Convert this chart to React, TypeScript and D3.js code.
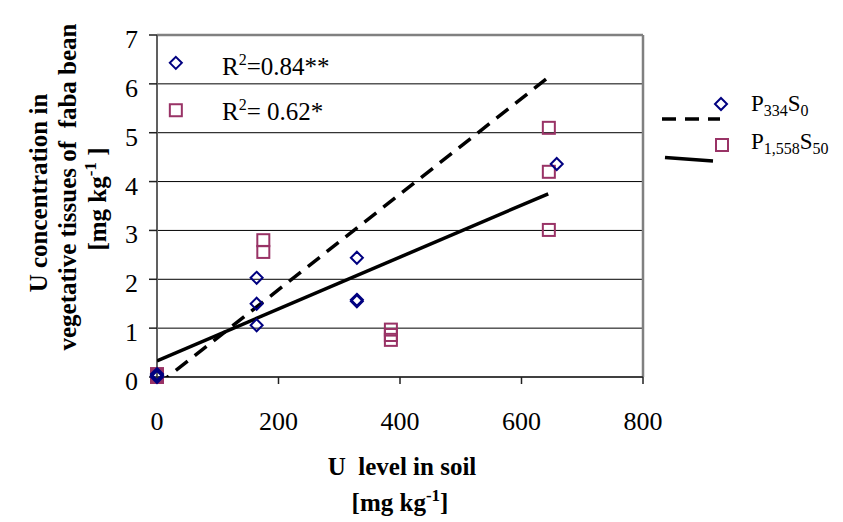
import React from "react";
import * as d3 from "d3";

const xTicks = [0, 200, 400, 600, 800];
const yTicks = [0, 1, 2, 3, 4, 5, 6, 7];
const gridValues = [1, 2, 3, 4, 5, 6];

// P334S0 (blue diamonds)
const seriesAx = [0, 0, 0, 164, 164, 164, 329, 329, 329, 658];
const seriesAy = [0.0, 0.03, 0.06, 2.03, 1.5, 1.06, 2.44, 1.58, 1.55, 4.36];
// P1,558S50 (pink squares)
const seriesBx = [0, 0, 0, 175, 175, 385, 385, 385, 645, 645, 645];
const seriesBy = [0.0, 0.03, 0.06, 2.8, 2.56, 0.97, 0.86, 0.76, 5.1, 4.2, 3.01];

// trend lines (endpoints)
const trendAx = [0, 647];
const trendAy = [-0.17, 6.16];
const trendBx = [0, 644];
const trendBy = [0.33, 3.75];

// in-plot annotations
const annotX = [31, 31];
const annotY = [6.43, 5.46];
const annotLabelX = [107, 107];
const annotLabelY = [6.18, 5.26];
const annotR2 = ["=0.84**", "= 0.62*"];

const BLUE = "#000080";
const PINK = "#993366";
const SERIF = "'Liberation Serif', 'Times New Roman', serif";

function Diamond({ cx, cy, r = 6 }: { cx: number; cy: number; r?: number }) {
  return (
    <path
      d={`M${cx},${cy - r}L${cx + r},${cy}L${cx},${cy + r}L${cx - r},${cy}Z`}
      fill="none"
      stroke={BLUE}
      strokeWidth={2}
    />
  );
}
function Square({ cx, cy, s = 12 }: { cx: number; cy: number; s?: number }) {
  return (
    <rect x={cx - s / 2} y={cy - s / 2} width={s} height={s} fill="none" stroke={PINK} strokeWidth={2} />
  );
}

export default function App() {
  const x = d3.scaleLinear().domain([0, 800]).range([157, 643]);
  const y = d3.scaleLinear().domain([0, 7]).range([377, 35]);
  const line = d3
    .line<[number, number]>()
    .x((d) => x(d[0]))
    .y((d) => y(d[1]));
  const tA: [number, number][] = trendAx.map((v, i) => [v, trendAy[i]]);
  const tB: [number, number][] = trendBx.map((v, i) => [v, trendBy[i]]);

  return (
    <svg
      width={843}
      height={522}
      style={{ position: "absolute", left: 0, top: 0, background: "#fff" }}
      fontFamily={SERIF}
    >
      <defs>
        <clipPath id="plotclip">
          <rect x={x(0)} y={y(7)} width={x(800) - x(0)} height={y(0) - y(7)} />
        </clipPath>
      </defs>
      <rect width={843} height={522} fill="#fff" />
      {/* gridlines */}
      {gridValues.map((g) => (
        <line key={g} x1={x(0)} x2={x(800)} y1={y(g)} y2={y(g)} stroke="#000" strokeWidth={1} />
      ))}
      {/* plot border top/right */}
      <line x1={x(0)} x2={x(800)} y1={y(7)} y2={y(7)} stroke="#808080" strokeWidth={2.5} />
      <line x1={x(800)} x2={x(800)} y1={y(7)} y2={y(0)} stroke="#808080" strokeWidth={2.5} />
      {/* axes */}
      <line x1={x(0)} x2={x(0)} y1={y(7)} y2={y(0)} stroke="#606060" strokeWidth={2} />
      <line x1={x(0)} x2={x(800)} y1={y(0)} y2={y(0)} stroke="#404040" strokeWidth={2} />
      {yTicks.map((t) => (
        <g key={t}>
          <line x1={x(0) - 8} x2={x(0)} y1={y(t)} y2={y(t)} stroke="#202020" strokeWidth={1.5} />
          <text x={138} y={y(t) + 13} textAnchor="end" fontSize={26} fill="#000">
            {t}
          </text>
        </g>
      ))}
      {xTicks.map((t) => (
        <g key={t}>
          <line x1={x(t)} x2={x(t)} y1={y(0)} y2={y(0) + 7} stroke="#202020" strokeWidth={1.5} />
          <text x={x(t)} y={430} textAnchor="middle" fontSize={26} fill="#000">
            {t}
          </text>
        </g>
      ))}
      {/* trend lines */}
      <g clipPath="url(#plotclip)">
        <path d={line(tA) || ""} fill="none" stroke="#000" strokeWidth={3.5} strokeDasharray="15,9" />
        <path d={line(tB) || ""} fill="none" stroke="#000" strokeWidth={3.5} />
      </g>
      {/* points */}
      {seriesBx.map((v, i) => (
        <Square key={"b" + i} cx={x(v)} cy={y(seriesBy[i])} />
      ))}
      {seriesAx.map((v, i) => (
        <Diamond key={"a" + i} cx={x(v)} cy={y(seriesAy[i])} />
      ))}
      {/* annotations */}
      <Diamond cx={x(annotX[0])} cy={y(annotY[0])} />
      <Square cx={x(annotX[1])} cy={y(annotY[1])} />
      {annotR2.map((s, i) => (
        <text key={s} x={x(annotLabelX[i])} y={y(annotLabelY[i])} fontSize={25} fill="#000">
          R<tspan fontSize={16} dy={-10}>2</tspan>
          <tspan dy={10}>{s}</tspan>
        </text>
      ))}
      {/* legend */}
      <line x1={662} x2={720} y1={119} y2={119} stroke="#000" strokeWidth={3.5} strokeDasharray="14,9" />
      <Diamond cx={721} cy={104} />
      <text x={751} y={111} fontSize={23} fill="#000">
        P<tspan fontSize={16} dy={5}>334</tspan>
        <tspan dy={-5}>S</tspan>
        <tspan fontSize={16} dy={5}>0</tspan>
      </text>
      <line x1={665} x2={713} y1={157.5} y2={161} stroke="#000" strokeWidth={3.5} />
      <Square cx={722} cy={145} />
      <text x={751} y={149} fontSize={23} fill="#000">
        P<tspan fontSize={16} dy={5}>1,558</tspan>
        <tspan dy={-5}>S</tspan>
        <tspan fontSize={16} dy={5}>50</tspan>
      </text>
      {/* y axis title */}
      <g fontWeight="bold" fontSize={25} fill="#000">
        <text transform="translate(47,193) rotate(-90)" textAnchor="middle">
          U concentration in
        </text>
        <text transform="translate(76,187) rotate(-90)" textAnchor="middle" xmlSpace="preserve">
          vegetative tissues of  faba bean
        </text>
        <text transform="translate(106,199) rotate(-90)" textAnchor="middle">
          [mg kg<tspan fontSize={17} dy={-10}>-1</tspan>
          <tspan dy={10}> ]</tspan>
        </text>
      </g>
      {/* x axis title */}
      <g fontWeight="bold" fontSize={25} fill="#000">
        <text x={402} y={475} textAnchor="middle" xmlSpace="preserve">
          U  level in soil
        </text>
        <text x={400} y={511} textAnchor="middle">
          [mg kg<tspan fontSize={17} dy={-10}>-1</tspan>
          <tspan dy={10}>]</tspan>
        </text>
      </g>
    </svg>
  );
}
